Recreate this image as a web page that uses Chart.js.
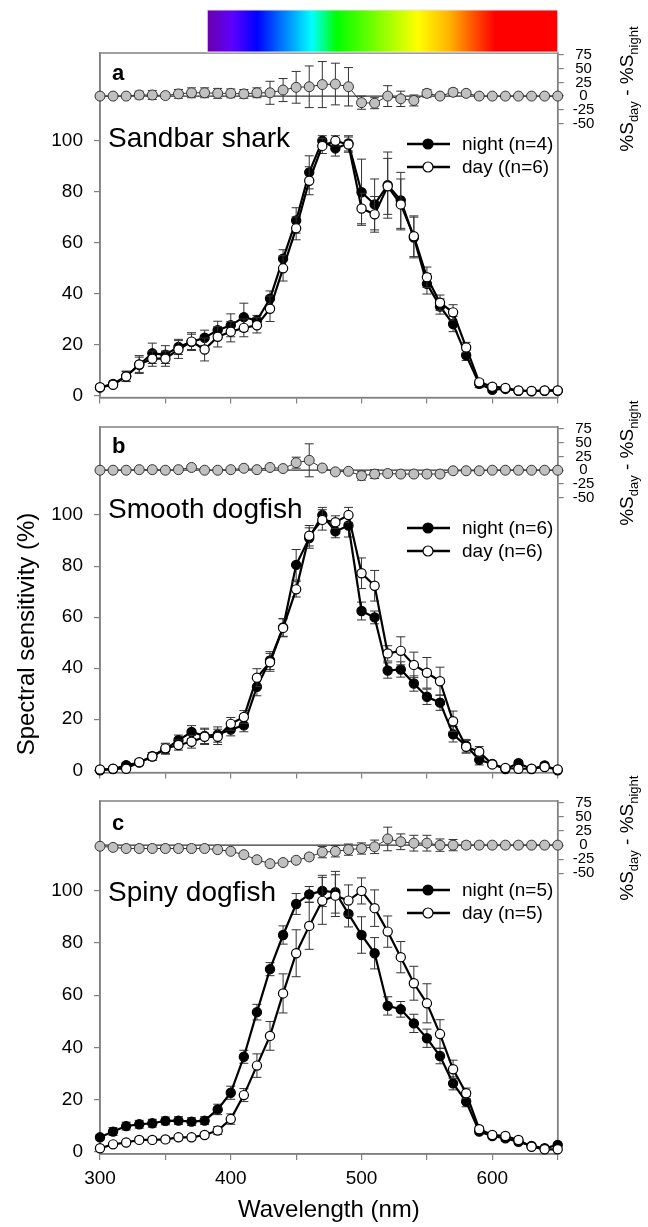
<!DOCTYPE html>
<html lang="en">
<head>
<meta charset="UTF-8">
<title>Spectral sensitivity day / night</title>
<script src="https://cdn.jsdelivr.net/npm/chart.js@4.4.1/dist/chart.umd.min.js"></script>
<style>
  body { margin: 0; background: #fff; }
  canvas { position: absolute; left: 0; }
</style>
</head>
<body>
<canvas id="chartA" width="648" height="420" style="top:0px"></canvas>
<canvas id="chartB" width="648" height="400" style="top:395px"></canvas>
<canvas id="chartC" width="648" height="457" style="top:770px"></canvas>
<script>
// wavelengths (nm)
const wavelengths = [300,310,320,330,340,350,360,370,380,390,400,410,420,430,440,450,460,470,480,490,500,510,520,530,540,550,560,570,580,590,600,610,620,630,640,650];

// a - Sandbar shark
const sandbarNight = [3,4.5,7.5,12,16.5,16,19,21,22.6,25.6,27.5,30.7,29.4,38,53.7,68.7,87.6,100,97,99,79.8,75,82.6,76.6,62,43.8,34.9,28,15.7,4.5,2.2,2.5,1.8,1.6,1.8,1.8];
const sandbarNightErr = [0.8,1,2,3,4,3.5,3,3,3,3.5,4.5,5.5,2,3,3.5,5,6.5,2,3,3,13,10,13,11,8,4,3,3,2,1.5,1,1,0.5,0.5,0.5,0.5];
const sandbarDay = [3.2,4.1,7.4,12.1,14.4,14.4,18,21.1,18,23,25,26.5,27.5,34,49.9,65.6,84.3,98,100,98.5,73.4,71.1,82.1,75,62.5,46.4,36.4,32.6,18.8,5.1,3.4,2.9,1.9,1.7,1.9,1.9];
const sandbarDayErr = [0.8,1,2,3.5,3,3,3.5,3.5,4.5,4,4,3.5,3,5,5,4.5,5.5,3,2,3,6,7,11,10,8,4,3,3,2,1,1,1,0.5,0.5,0.5,0.5];
const sandbarDiff = [0,0,0,2,2,1,4,6,6,5,5,4,6,6,11,16,17,21,22,17,-12,-13,0,-5,-8,5,0,7,5,0,0,0,0,0,0,0];
const sandbarDiffErr = [1,1,1,7,8,5,8,9,9,9,8,8,9,21,21,29,38,42,38,35,12,10,19,14,10,7,3,6,4,2,1,1,1,1,1,1];

// b - Smooth dogfish
const smoothNight = [0,0.5,2,3,5.5,8.3,11.8,15,13.5,14,16,17.6,32.7,43,56,80.5,91,100,93.6,95.9,62.4,59.9,39.1,39.5,34,28.8,26.5,14.1,9.6,4.1,2.5,0.5,2.8,0.5,1.9,0];
const smoothNightErr = [0.3,0.5,1,1,1.5,2,2,2.5,3,3,2.5,2.5,3.5,3.5,3.5,6,4,3,2.5,4.5,3.5,2.5,3,3,3,3,3,3,2.5,2,1,0.5,1,0.5,1,0.3];
const smoothDay = [0.3,0.6,0.6,3.2,5.4,8.6,9.9,11.2,13.1,13.1,18.2,20.9,36.3,42.3,55.8,70.9,91.9,98.1,97.2,100,77.2,72.3,45.8,46.8,41.3,38.2,34.9,19.2,9.2,7.3,2.3,0.9,0.6,0.6,1.3,0.3];
const smoothDayErr = [0.3,0.5,0.5,1,1.5,2,2,2.5,3,3,2.5,2.5,3.5,3.5,3.5,3,4,4,2.5,3,6,6,3,5.5,5,6,5.5,4,2.5,2,1,0.5,0.5,0.5,1,0.3];
const smoothDiff = [0,0,0,1,1,0,1,5,0,0,1,3.5,1,5,3,13.7,18,4,-3,-2,-10,-7,-6,-7,-7,-7,-7,-1,-1,-1,0,0,0,0,0,0];
const smoothDiffErr = [1,1,1,2,2,1,2,4,2,2,2,4,2,4,3,10,30,4,3,3,8,8,3,3,3,3,3,2,2,2,1,1,1,1,1,1];

// c - Spiny dogfish
const spinyNight = [5.5,7.7,9.8,10.5,10.9,11.8,11.9,11.5,11.9,16.2,22.6,36.4,53.5,70,83.1,95,98.7,100,99.5,91.2,83.1,76.1,55.9,54.6,49.2,43.5,36.7,26.2,19.2,7.7,6,5.1,3.8,2.2,1.3,2.6];
const spinyNightErr = [1,1.5,1.5,1.5,1.5,1.5,1.5,1.5,1.5,2,2.5,2.5,3,2.5,3.5,4,3,6,8,5,7,6,3.5,3,3.5,3.5,3,2.5,2,1,1,1,1,0.5,0.5,0.5];
const spinyDay = [1.3,2.8,3.5,4.5,4.5,4.7,5.5,5.5,6.4,8.1,12.5,21.7,33,44.4,60.7,76.1,86.6,96.2,98.2,96.3,100,93.4,84.4,74.6,64.6,56.9,45.1,31.6,22.4,8.6,6.4,6,4.5,1.9,0.9,0.9];
const spinyDayErr = [0.5,0.5,0.5,1,1,1,1,1,1,1.5,2,2.5,4.5,5.5,7.5,9,9,9,8,6,5,7,6,6,6.5,7.5,5.5,3.5,2,1,1,1,1,0.5,0.5,0.5];
const spinyDiff = [-2,-4,-6,-6,-6,-6,-6,-6,-6,-8,-11,-17,-26,-33,-31,-27,-21,-12.5,-11,-8,-6,-3,11,6,3.5,3.5,0,0,0,0,0,0,0,0,0,0];
const spinyDiffErr = [1,2,2,2,2,2,2,2,2,2,3,3,4,4,4,4,5,10,10,10,10,12,21,14,14,14,11,10,6,3,2,1,1,1,1,1];

// ticks
const xTicks = [300,350,400,450,500,550,600,650];
const xLabels = [300,400,500,600];
const leftTicks = [0,20,40,60,80,100];
const diffTicks = [75,50,25,0,-25,-50];

// visible spectrum bar (nm, colour)
const spectrumStops = [[382,'#6a00aa'],[401,'#5e00ff'],[420,'#0000ff'],[462,'#00ffff'],[481,'#00ff00'],[543,'#ffff00'],[567,'#ffb400'],[586,'#ff5000'],[602,'#ff0000'],[650,'#ff0000']];

Chart.defaults.font.family = "'Liberation Sans', Arial, sans-serif";
Chart.defaults.color = '#000';

const FONT = "'Liberation Sans', Arial, sans-serif";
const AXIS_GREY = '#808080';

const pts = vals => vals.map((v, i) => ({x: wavelengths[i], y: v}));

function drawDiffTitle(ctx, x, y) {
  const parts = [['%S', 19, 0], ['day', 13, 5], [' - %S', 19, 0], ['night', 13, 5]];
  ctx.save();
  ctx.translate(x, y);
  ctx.rotate(-Math.PI / 2);
  ctx.fillStyle = '#000';
  ctx.textBaseline = 'alphabetic';
  ctx.textAlign = 'left';
  let total = 0;
  parts.forEach(p => { ctx.font = p[1] + 'px ' + FONT; total += ctx.measureText(p[0]).width; });
  let cx = -total / 2;
  parts.forEach(p => {
    ctx.font = p[1] + 'px ' + FONT;
    ctx.fillText(p[0], cx, p[2]);
    cx += ctx.measureText(p[0]).width;
  });
  ctx.restore();
}

const panelDecor = {
  id: 'panelDecor',
  beforeDatasetsDraw(chart, args, opts) {
    const {ctx, chartArea: a, scales} = chart;
    ctx.save();
    // frame
    ctx.strokeStyle = AXIS_GREY;
    ctx.lineWidth = 1.5;
    ctx.strokeRect(a.left, a.top, a.right - a.left, a.bottom - a.top);
    // zero line of difference strip
    const y0 = scales.y2.getPixelForValue(0);
    ctx.strokeStyle = '#333';
    ctx.lineWidth = 1.2;
    ctx.beginPath();
    ctx.moveTo(a.left, y0);
    ctx.lineTo(a.right, y0);
    ctx.stroke();
    ctx.restore();
  },
  beforeDatasetDraw(chart, args) {
    const ds = chart.data.datasets[args.index];
    if (!ds.errors) return;
    const ys = chart.scales[ds.yAxisID];
    const ctx = chart.ctx;
    ctx.save();
    ctx.strokeStyle = '#333';
    ctx.lineWidth = 1;
    ds.data.forEach((p, i) => {
      const e = ds.errors[i];
      if (!e) return;
      const x = args.meta.data[i].x;
      const y1 = ys.getPixelForValue(p.y + e);
      const y2 = ys.getPixelForValue(p.y - e);
      ctx.beginPath();
      ctx.moveTo(x, y1); ctx.lineTo(x, y2);
      ctx.moveTo(x - 4.5, y1); ctx.lineTo(x + 4.5, y1);
      ctx.moveTo(x - 4.5, y2); ctx.lineTo(x + 4.5, y2);
      ctx.stroke();
    });
    ctx.restore();
  },
  afterDraw(chart, args, o) {
    const {ctx, chartArea: a, scales} = chart;
    ctx.save();
    ctx.fillStyle = '#000';
    ctx.textAlign = 'left';
    ctx.textBaseline = 'alphabetic';
    // panel letter
    ctx.font = 'bold 22px ' + FONT;
    ctx.fillText(o.letter, a.left + 12, a.top + o.letterBase);
    // species name
    ctx.font = '28px ' + FONT;
    ctx.fillText(o.name, a.left + 8, a.top + o.nameBase);
    // legend
    const lx = 428;
    [[o.nightLabel, '#000'], [o.dayLabel, '#fff']].forEach((it, i) => {
      const ly = a.top + o.legendTop + i * 23;
      ctx.strokeStyle = '#000';
      ctx.lineWidth = 2.4;
      ctx.beginPath();
      ctx.moveTo(lx - 21, ly); ctx.lineTo(lx + 22, ly);
      ctx.stroke();
      ctx.beginPath();
      ctx.arc(lx, ly, 5, 0, Math.PI * 2);
      ctx.fillStyle = it[1];
      ctx.fill();
      ctx.lineWidth = 1.2;
      ctx.stroke();
      ctx.fillStyle = '#000';
      ctx.font = '19px ' + FONT;
      ctx.textBaseline = 'middle';
      ctx.fillText(it[0], lx + 34, ly + 1);
      ctx.textBaseline = 'alphabetic';
    });
    // right axis title
    drawDiffTitle(ctx, 633, scales.y2.getPixelForValue(0) - 7);
    // spectrum bar
    if (o.spectrum) {
      const x0 = scales.x.getPixelForValue(spectrumStops[0][0]);
      const x1 = scales.x.getPixelForValue(spectrumStops[spectrumStops.length - 1][0]);
      const g = ctx.createLinearGradient(x0, 0, x1, 0);
      spectrumStops.forEach(s => g.addColorStop((scales.x.getPixelForValue(s[0]) - x0) / (x1 - x0), s[1]));
      ctx.fillStyle = g;
      ctx.fillRect(x0, a.top - 43, x1 - x0, 42);
      ctx.strokeStyle = '#e6e6e6';
      ctx.lineWidth = 1;
      ctx.strokeRect(x0, a.top - 43, x1 - x0, 42);
    }
    // shared left title
    if (o.leftTitle) {
      ctx.translate(27, a.top + 207);
      ctx.rotate(-Math.PI / 2);
      ctx.fillStyle = '#000';
      ctx.font = '24px ' + FONT;
      ctx.textAlign = 'center';
      ctx.textBaseline = 'middle';
      ctx.fillText('Spectral sensitivity (%)', 0, 0);
    }
    ctx.restore();
  }
};

const panels = [
  {id: 'chartA', letter: 'a', name: 'Sandbar shark', night: sandbarNight, nightErr: sandbarNightErr, day: sandbarDay, dayErr: sandbarDayErr,
   diff: sandbarDiff, diffErr: sandbarDiffErr, nightLabel: 'night (n=4)', dayLabel: 'day ((n=6)',
   padTop: 53, xHeight: 15, letterBase: 27, nameBase: 94, legendTop: 91, spectrum: true, leftTitle: false, bottom: false},
  {id: 'chartB', letter: 'b', name: 'Smooth dogfish', night: smoothNight, nightErr: smoothNightErr, day: smoothDay, dayErr: smoothDayErr,
   diff: smoothDiff, diffErr: smoothDiffErr, nightLabel: 'night (n=6)', dayLabel: 'day (n=6)',
   padTop: 32, xHeight: 15, letterBase: 26, nameBase: 91, legendTop: 101, spectrum: false, leftTitle: true, bottom: false},
  {id: 'chartC', letter: 'c', name: 'Spiny dogfish', night: spinyNight, nightErr: spinyNightErr, day: spinyDay, dayErr: spinyDayErr,
   diff: spinyDiff, diffErr: spinyDiffErr, nightLabel: 'night (n=5)', dayLabel: 'day (n=5)',
   padTop: 31, xHeight: 73, letterBase: 29, nameBase: 100, legendTop: 89, spectrum: false, leftTitle: false, bottom: true}
];

panels.forEach(p => {
  new Chart(document.getElementById(p.id), {
    type: 'line',
    data: {
      datasets: [
        {label: 'day', data: pts(p.day), errors: p.dayErr, yAxisID: 'y', clip: false,
         borderColor: '#000', borderWidth: 2.2, pointRadius: 4.6, pointBorderWidth: 1.2,
         pointBackgroundColor: '#fff', pointBorderColor: '#000', tension: 0},
        {label: 'night', data: pts(p.night), errors: p.nightErr, yAxisID: 'y', clip: false,
         borderColor: '#000', borderWidth: 2.2, pointRadius: 4.6, pointBorderWidth: 1.2,
         pointBackgroundColor: '#000', pointBorderColor: '#000', tension: 0},
        {label: 'difference', data: pts(p.diff), errors: p.diffErr, yAxisID: 'y2', clip: false,
         borderColor: '#333', borderWidth: 1, pointRadius: 5, pointBorderWidth: 1,
         pointBackgroundColor: '#c0c0c0', pointBorderColor: '#333', tension: 0}
      ]
    },
    options: {
      responsive: false,
      animation: false,
      events: [],
      devicePixelRatio: 1,
      layout: {autoPadding: false, padding: {top: p.padTop, left: 0, right: 0, bottom: 0}},
      plugins: {
        legend: {display: false},
        tooltip: {enabled: false},
        panelDecor: p
      },
      scales: {
        x: {
          type: 'linear', min: 300, max: 650,
          afterBuildTicks: s => { s.ticks = xTicks.map(v => ({value: v})); },
          afterFit: s => { s.height = p.xHeight; },
          ticks: {display: p.bottom, autoSkip: false, maxRotation: 0, padding: 7,
                  font: {size: 19}, color: '#000',
                  callback: v => xLabels.includes(v) ? String(v) : ''},
          grid: {drawOnChartArea: false, tickLength: 6, color: AXIS_GREY, lineWidth: 1.2},
          border: {color: AXIS_GREY, width: 1.5},
          title: {display: p.bottom, text: 'Wavelength (nm)', font: {size: 24}, color: '#000', padding: {top: 0, bottom: 2}}
        },
        y: {
          position: 'left', min: -0.9, max: 134.5,
          afterBuildTicks: s => { s.ticks = leftTicks.map(v => ({value: v})); },
          afterFit: s => { s.width = 100; },
          ticks: {font: {size: 19}, color: '#000', padding: 11},
          grid: {drawOnChartArea: false, tickLength: 6, color: AXIS_GREY, lineWidth: 1.2},
          border: {color: AXIS_GREY, width: 1.5}
        },
        y2: {
          position: 'right', min: -550, max: 78.6,
          afterBuildTicks: s => { s.ticks = diffTicks.map(v => ({value: v})); },
          afterFit: s => { s.width = 90.3; },
          ticks: {font: {size: 15}, color: '#000', padding: 9, crossAlign: 'center'},
          grid: {drawOnChartArea: false, tickLength: 6, color: AXIS_GREY, lineWidth: 1.2},
          border: {color: AXIS_GREY, width: 1.5}
        }
      }
    },
    plugins: [panelDecor]
  });
});
</script>
</body>
</html>
